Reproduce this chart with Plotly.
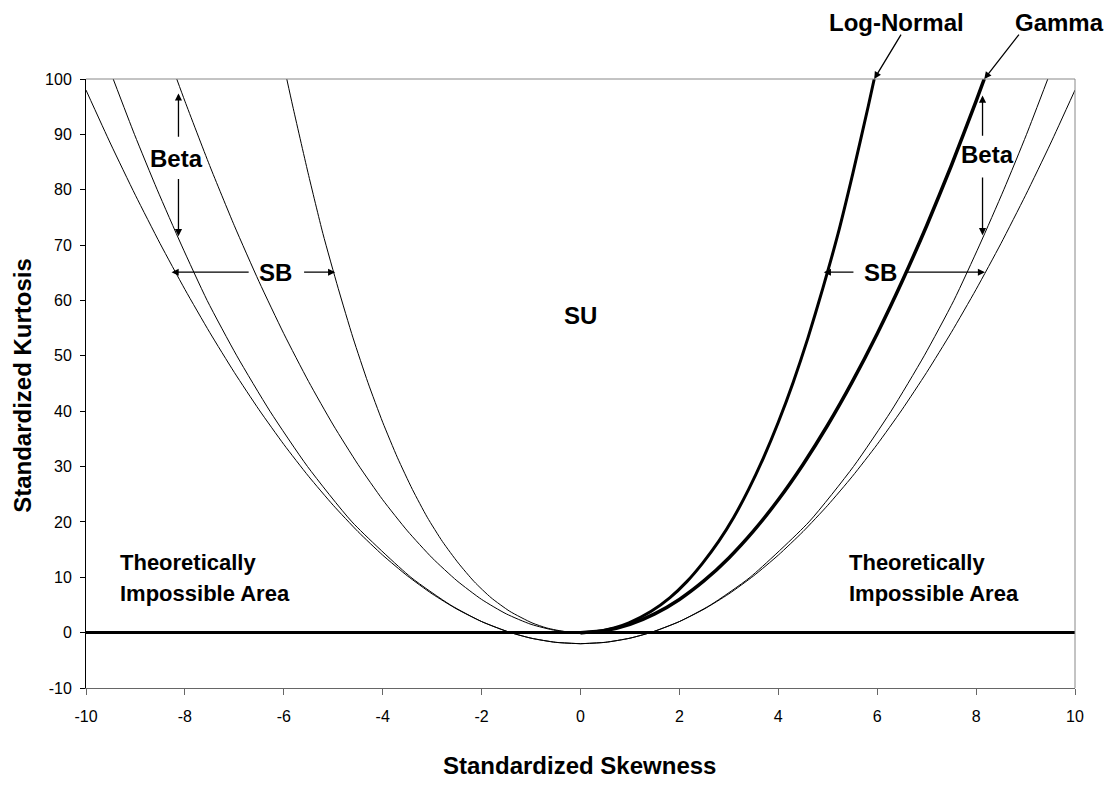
import plotly.graph_objects as go

# ---- data (positive-skew half; left half is the mirror) ----
boundary_skew = [0, 0.5, 1, 1.5, 2, 2.5, 3, 3.5, 4, 4.5, 5, 5.5, 6, 6.5, 7, 7.5, 8, 8.5, 9, 9.5, 10]
boundary_kurt = [-2, -1.75, -1, 0.25, 2, 4.25, 7, 10.25, 14, 18.25, 23, 28.25, 34, 40.25, 47, 54.25, 62, 70.25, 79, 88.25, 98]

beta_skew = [0, 0.5, 1.0, 1.41, 2.0, 2.63, 3.43, 4.62, 5.52, 6.28, 6.95, 7.55, 8.07, 8.56, 9.02, 9.45]
beta_kurt = [-2, -1.75, -1, 0, 2, 5, 10, 20, 30, 40, 50, 60, 70, 80, 90, 100]

gamma_skew = [0, 0.5, 1, 1.5, 2, 2.5, 3, 3.5, 4, 4.5, 5, 5.5, 6, 6.5, 7, 7.5, 8, 8.165]
gamma_kurt = [0, 0.38, 1.5, 3.38, 6, 9.38, 13.5, 18.38, 24, 30.38, 37.5, 45.38, 54, 63.38, 73.5, 84.38, 96, 100]

lognormal_skew = [0, 0.30, 0.68, 0.98, 1.43, 1.81, 2.15, 2.47, 2.79, 3.10, 3.40, 3.70, 4.00, 4.30, 4.60, 4.90, 5.21, 5.51, 5.82, 5.94]
lognormal_kurt = [0, 0.16, 0.84, 1.76, 3.85, 6.32, 9.21, 12.56, 16.43, 20.85, 25.88, 31.58, 38.0, 45.2, 53.24, 62.19, 72.11, 83.06, 95.13, 100]

x_ticks = [-10, -8, -6, -4, -2, 0, 2, 4, 6, 8, 10]
y_ticks = [-10, 0, 10, 20, 30, 40, 50, 60, 70, 80, 90, 100]

FONT = "Liberation Sans, Arial, sans-serif"

fig = go.Figure()

def add_curve(xs, ys, width):
    fig.add_trace(go.Scatter(x=xs, y=ys, mode="lines",
                             line=dict(color="black", width=width, shape="spline", smoothing=0.6),
                             showlegend=False, hoverinfo="skip"))

# left (mirrored) half - thin lines
add_curve([-v for v in boundary_skew], boundary_kurt, 1)
add_curve([-v for v in beta_skew], beta_kurt, 1)
add_curve([-v for v in gamma_skew], gamma_kurt, 1)
add_curve([-v for v in lognormal_skew], lognormal_kurt, 1)
# right half
add_curve(boundary_skew, boundary_kurt, 1)
add_curve(beta_skew, beta_kurt, 1)
add_curve(gamma_skew, gamma_kurt, 3.5)
add_curve(lognormal_skew, lognormal_kurt, 3)

ann = []

def label(text, x, y, size=24, xanchor="center", ref="x"):
    ann.append(dict(text="<b>%s</b>" % text, x=x, y=y,
                    xref="x" if ref == "x" else "paper",
                    yref="y" if ref == "x" else "paper",
                    showarrow=False, xanchor=xanchor, yanchor="middle",
                    borderpad=0,
                    font=dict(family=FONT, size=size, color="black")))

def arrow(x0, y0, x1, y1):
    ann.append(dict(text="", x=x1, y=y1, ax=x0, ay=y0, xref="x", yref="y",
                    axref="x", ayref="y", showarrow=True, arrowhead=2,
                    arrowsize=1.1, arrowwidth=1.3, arrowcolor="black",
                    standoff=0, startstandoff=0))

label("Log-Normal", 0.820, 1.092, ref="paper")
label("Gamma", 0.984, 1.092, ref="paper")
arrow(6.50, 108.3, 5.94, 100)
arrow(8.89, 108.3, 8.165, 100)

label("Beta", -8.17, 85.7)
arrow(-8.13, 89.3, -8.13, 97.4)
arrow(-8.13, 82.2, -8.13, 71.6)
label("Beta", 8.24, 86.3)
arrow(8.13, 89.5, 8.13, 97.0)
arrow(8.13, 82.5, 8.13, 71.8)

label("SB", -6.17, 65.1)
arrow(-6.68, 65.1, -8.27, 65.1)
arrow(-5.62, 65.1, -4.96, 65.1)
label("SB", 6.06, 65.1)
arrow(5.55, 65.1, 4.92, 65.1)
arrow(6.56, 65.1, 8.18, 65.1)

label("SU", 0.0, 57.2)

label("Theoretically", -9.33, 12.66, size=22, xanchor="left")
label("Impossible Area", -9.33, 7.08, size=22, xanchor="left")
label("Theoretically", 5.41, 12.66, size=22, xanchor="left")
label("Impossible Area", 5.41, 7.08, size=22, xanchor="left")

ann.append(dict(text="<b>Standardized Kurtosis</b>", xref="paper", yref="paper",
                x=-0.0642, y=0.497, textangle=-90, showarrow=False,
                xanchor="center", yanchor="middle",
                font=dict(family=FONT, size=24, color="black")))
ann.append(dict(text="<b>Standardized Skewness</b>", xref="paper", yref="paper",
                x=0.499, y=-0.128, showarrow=False,
                xanchor="center", yanchor="middle",
                font=dict(family=FONT, size=24, color="black")))

# page body has an 8px default margin: figure sized so it fits the window
fig.update_layout(
    width=1104, height=792,
    margin=dict(l=78, r=37, t=71, b=112),
    paper_bgcolor="white", plot_bgcolor="white",
    annotations=ann,
    font=dict(family=FONT, size=16, color="black"),
    shapes=[
        dict(type="line", xref="paper", yref="paper", x0=0, x1=1, y0=1, y1=1,
             line=dict(color="#888888", width=1)),
        dict(type="line", xref="paper", yref="paper", x0=1, x1=1, y0=0, y1=1,
             line=dict(color="#888888", width=1)),
    ],
)
fig.update_xaxes(range=[-10, 10], tickvals=x_ticks, ticktext=[str(v) for v in x_ticks],
                 showgrid=False, zeroline=False, showline=True, linecolor="#666666",
                 linewidth=1, ticks="outside", ticklen=6, tickcolor="#666666",
                 ticklabelstandoff=8, tickfont=dict(family=FONT, size=16, color="black"))
fig.update_yaxes(range=[-10, 100], tickvals=y_ticks, ticktext=[str(v) for v in y_ticks],
                 showgrid=False, zeroline=True, zerolinecolor="black", zerolinewidth=2.5,
                 showline=True, linecolor="black", linewidth=1, ticks="outside",
                 ticklen=5, tickcolor="black", ticklabelstandoff=5,
                 tickfont=dict(family=FONT, size=16, color="black"))

fig.write_html("out.html")
